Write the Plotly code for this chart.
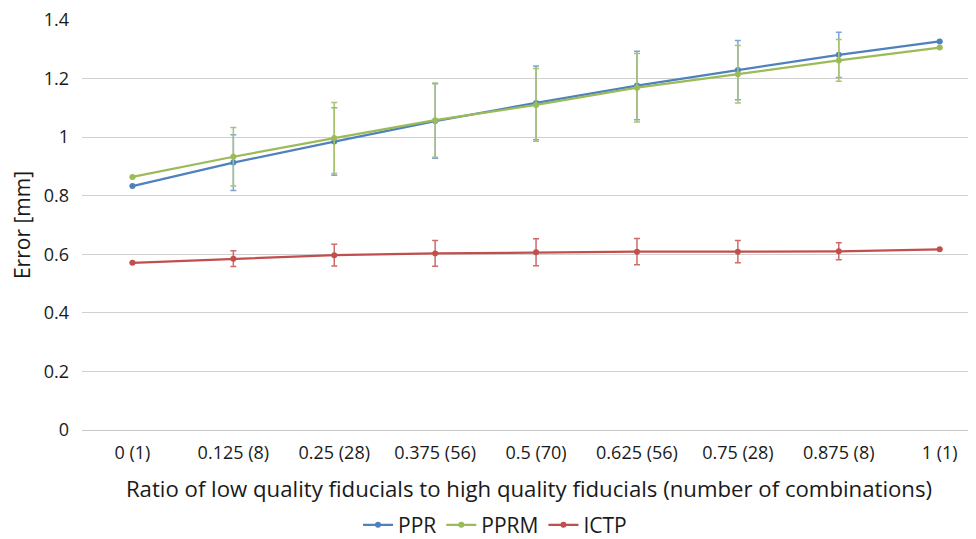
import plotly.graph_objects as go

categories = ["0 (1)", "0.125 (8)", "0.25 (28)", "0.375 (56)", "0.5 (70)",
              "0.625 (56)", "0.75 (28)", "0.875 (8)", "1 (1)"]

ppr = [0.833, 0.913, 0.985, 1.055, 1.117, 1.176, 1.229, 1.281, 1.327]
ppr_err = [0, 0.095, 0.115, 0.127, 0.126, 0.117, 0.101, 0.077, 0]

pprm = [0.864, 0.933, 0.997, 1.058, 1.110, 1.169, 1.215, 1.262, 1.306]
pprm_err = [0, 0.100, 0.121, 0.127, 0.124, 0.117, 0.098, 0.071, 0]

ictp = [0.571, 0.585, 0.597, 0.603, 0.607, 0.609, 0.609, 0.610, 0.617]
ictp_err = [0, 0.027, 0.037, 0.044, 0.046, 0.045, 0.038, 0.029, 0]

y_ticks = [0, 0.2, 0.4, 0.6, 0.8, 1.0, 1.2, 1.4]

series = [
    ("PPR", ppr, ppr_err, "#4F81BD", "#7FA3D3"),
    ("PPRM", pprm, pprm_err, "#9BBB59", "#A9C46E"),
    ("ICTP", ictp, ictp_err, "#C0504D", "#CF6B68"),
]

fig = go.Figure()
for name, vals, errs, col, ecol in series:
    fig.add_trace(go.Scatter(
        x=categories, y=vals, name=name, mode="lines+markers",
        line=dict(color=col, width=2.25),
        marker=dict(color=col, size=6),
        error_y=dict(type="data", array=errs, symmetric=True,
                     color=ecol, thickness=1.5, width=3),
    ))

font_family = "'Open Sans', sans-serif"
fig.update_layout(
    width=968, height=531,
    margin=dict(l=74, r=0, t=12, b=109, autoexpand=False),
    paper_bgcolor="white", plot_bgcolor="white",
    font=dict(family=font_family, color="#1a1a1a"),
    showlegend=True,
    legend=dict(orientation="h", x=0.462, xanchor="center", y=-0.232, yanchor="middle",
                font=dict(size=21), itemwidth=30, traceorder="normal",
                tracegroupgap=0),
    xaxis=dict(type="category", range=[-0.5, 8.36], showgrid=False, automargin=False,
               showline=False, ticks="", tickfont=dict(size=18), ticklabelstandoff=10,
               title=dict(text="Ratio of low quality fiducials to high quality fiducials (number of combinations)",
                          font=dict(size=22.2), standoff=18)),
    yaxis=dict(range=[0, 1.4], tickvals=y_ticks, showgrid=True, gridcolor="#D0D0D0",
               gridwidth=1, zeroline=True, zerolinecolor="#C8C8C8", zerolinewidth=1,
               automargin=False, ticklabeloverflow="allow",
               showline=False, ticks="", ticklabelstandoff=12, tickfont=dict(size=18),
               title=dict(text="Error [mm]", font=dict(size=21), standoff=18)),
)

fig.write_html("out.html")
